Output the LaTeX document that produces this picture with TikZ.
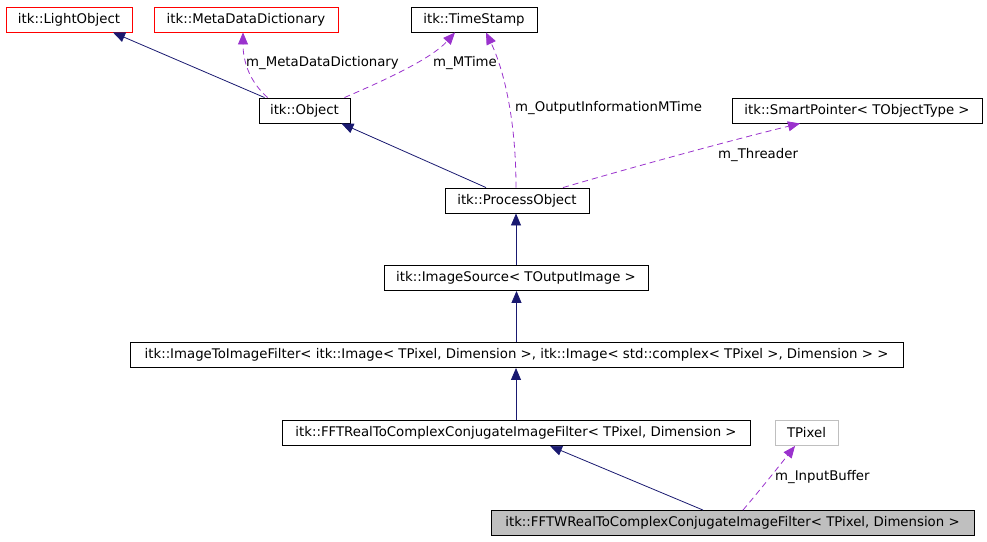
\documentclass[tikz,border=0pt]{standalone}
\usepackage{fontspec}
\setmainfont{DejaVu Sans}
\usetikzlibrary{arrows.meta}
\definecolor{navyc}{HTML}{191970}
\definecolor{purp}{HTML}{9A32CD}
\definecolor{grayc}{HTML}{BFBFBF}
\begin{document}
\begin{tikzpicture}[x=1pt,y=-1pt,
  font=\fontsize{13.3}{16}\selectfont,
  box/.style={draw=black, minimum height=25pt, inner sep=0pt, line width=0.9pt, anchor=center},
  redbox/.style={box, draw=red},
  inh/.style={draw=navyc, line width=0.8pt, -{Triangle[length=12pt,width=10pt]}},
  use/.style={draw=purp, line width=0.8pt, dash pattern=on 6pt off 4pt, -{Triangle[length=12pt,width=10pt]}},
  lbl/.style={anchor=west, inner sep=0pt}]
\useasboundingbox (0,0) rectangle (987,541);
\node[redbox, minimum width=126pt] (lo) at (69,19.5) {itk::LightObject};
\node[redbox, minimum width=184pt] (md) at (246,19.5) {itk::MetaDataDictionary};
\node[box, minimum width=126pt] (ts) at (474,19.5) {itk::TimeStamp};
\node[box, minimum width=91pt] (obj) at (304.5,110.5) {itk::Object};
\node[box, minimum width=250pt] (sp) at (857,110.5) {itk::SmartPointer< TObjectType >};
\node[box, minimum width=144pt] (po) at (517,200.5) {itk::ProcessObject};
\node[box, minimum width=264pt] (is) at (516,278) {itk::ImageSource< TOutputImage >};
\node[box, minimum width=773pt] (i2i) at (516.5,355) {itk::ImageToImageFilter< itk::Image< TPixel, Dimension >, itk::Image< std::complex< TPixel >, Dimension > >};
\node[box, minimum width=468pt] (fft) at (516,433) {itk::FFTRealToComplexConjugateImageFilter< TPixel, Dimension >};
\node[box, draw=grayc, minimum width=63pt] (tp) at (806.5,433) {TPixel};
\node[box, fill=grayc, minimum width=483pt] (fftw) at (732.5,523) {itk::FFTWRealToComplexConjugateImageFilter< TPixel, Dimension >};

% inheritance
\draw[inh] ([xshift=6pt]obj.north west) -- ([xshift=44pt]lo.south);
\draw[inh] ([xshift=-31pt]po.north) -- ([xshift=-9pt]obj.south east);
\draw[inh] (is.north) -- (is.north |- po.south);
\draw[inh] (i2i.north) -- (i2i.north |- is.south);
\draw[inh] (fft.north) -- (fft.north |- i2i.south);
\draw[inh] ([xshift=-29.5pt]fftw.north) -- ([xshift=34pt]fft.south);

% usage
\draw[use] ([xshift=9pt]obj.north west) .. controls (250,82) and (243,62) .. ([xshift=-3pt]md.south);
\node[lbl] (l1) at (246,63) {m\_MetaDataDictionary};
\draw[use] ([xshift=-6pt]obj.north east) .. controls (390,78) and (432,58) .. ([xshift=-19pt]ts.south);
\node[lbl] (l2) at (433,63) {m\_MTime};
\draw[use] ([xshift=-1pt]po.north) .. controls (516,120) and (504,70) .. ([xshift=12pt]ts.south);
\node[lbl] (l3) at (515,108) {m\_OutputInformationMTime};
\draw[use] ([xshift=46pt]po.north) .. controls (640,165) and (740,138) .. ([xshift=-57pt]sp.south);
\node[lbl] (l4) at (718,155) {m\_Threader};
\draw[use] ([xshift=10.5pt]fftw.north) .. controls (760,490) and (780,465) .. ([xshift=-11.5pt]tp.south);
\node[lbl] (l5) at (775,477) {m\_InputBuffer};
\end{tikzpicture}
\end{document}
